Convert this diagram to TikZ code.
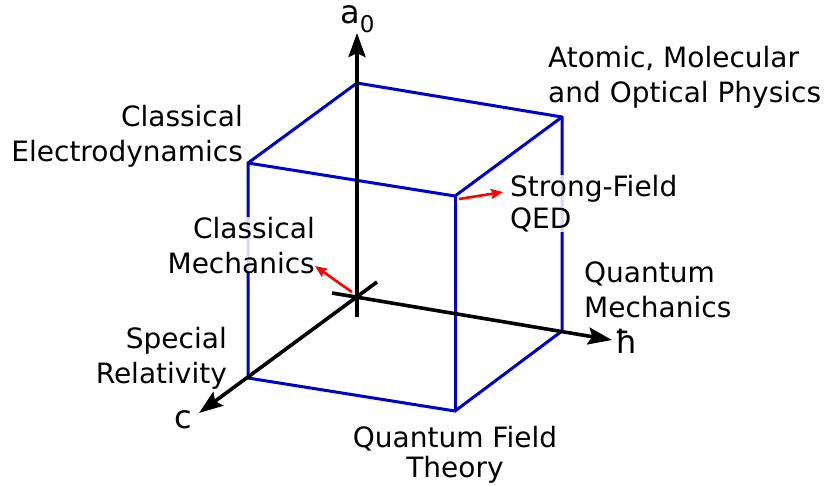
\documentclass[tikz,border=0pt]{standalone}
\usepackage{fontspec}
\setmainfont{DejaVu Sans}
\usetikzlibrary{arrows.meta}
\definecolor{cubeblue}{RGB}{0,0,204}
\begin{document}
\begin{tikzpicture}[x=1pt,y=-1pt,
  edge/.style={cubeblue, line width=3pt, line join=round, line cap=round},
  axis/.style={black, line width=3.6pt, -{Stealth[length=24pt,width=17pt,inset=4pt]}},
  lbl/.style={inner sep=0pt, font=\fontsize{28}{35}\selectfont},
  axlbl/.style={inner sep=0pt, font=\fontsize{32}{32}\selectfont},
  ptr/.style={red, line width=2.6pt, -{Stealth[length=12pt,width=10pt,inset=2pt]}},
  veil/.style={fill=white, fill opacity=0.85, text opacity=1}
]
\useasboundingbox (0,0) rectangle (826,485);
% cube corners
\coordinate (O) at (357,297);
\coordinate (A) at (357,83);
\coordinate (AH) at (562,117);
\coordinate (H) at (562,331);
\coordinate (C) at (248,378);
\coordinate (CH) at (455,411);
\coordinate (CA) at (248,163);
\coordinate (CAH) at (455,196);
% cube edges
\draw[edge] (A) -- (AH) -- (CAH) -- (CA) -- cycle;
\draw[edge] (AH) -- (H) -- (CH) -- (C) -- (CA);
\draw[edge] (CAH) -- (CH);
% axes
\coordinate (a0s) at (357,317); \coordinate (a0t) at (357,33);
\coordinate (hs) at (332,293);  \coordinate (ht) at (612,340);
\coordinate (cs) at (377,282);  \coordinate (ct) at (199,413);
\draw[axis] (a0s) -- (a0t);
\draw[axis] (hs) -- (ht);
\draw[axis] (cs) -- (ct);
% axis labels
\node[axlbl, anchor=base west] (la0) at (340,23) {a\raisebox{-9pt}{\fontsize{23}{23}\selectfont 0}};
\node[axlbl, anchor=base west] (lh) at (615,353) {ħ};
\node[axlbl, anchor=base west] (lc) at (174,428) {c};
% labels (base anchor = baseline of last line)
\node[lbl, align=right, anchor=base east] (CE) at (243,161) {Classical\\Electrodynamics};
\node[lbl, align=left, anchor=base west] (AMO) at (548,102) {Atomic, Molecular\\and Optical Physics};
\node[lbl, veil, align=left, anchor=base west, font=\fontsize{28}{32}\selectfont] (SF) at (510,228) {Strong-Field\\QED};
\node[lbl, veil, align=right, anchor=base east] (CM) at (315,273) {Classical\\Mechanics};
\node[lbl, align=left, anchor=base west] (QM) at (584,317) {Quantum\\Mechanics};
\node[lbl, align=right, anchor=base east] (SR) at (227,383) {Special\\Relativity\hspace{6pt}};
\node[lbl, align=center, anchor=base, font=\fontsize{28}{30}\selectfont] (QFT) at (455,477) {Quantum Field\\Theory};
% pointers
\coordinate (sf0) at (459,199); \coordinate (sf1) at (503,192);
\coordinate (cm0) at (352,292); \coordinate (cm1) at (315,266);
\draw[ptr] (sf0) -- (sf1);
\draw[ptr] (cm0) -- (cm1);
\end{tikzpicture}
\end{document}
